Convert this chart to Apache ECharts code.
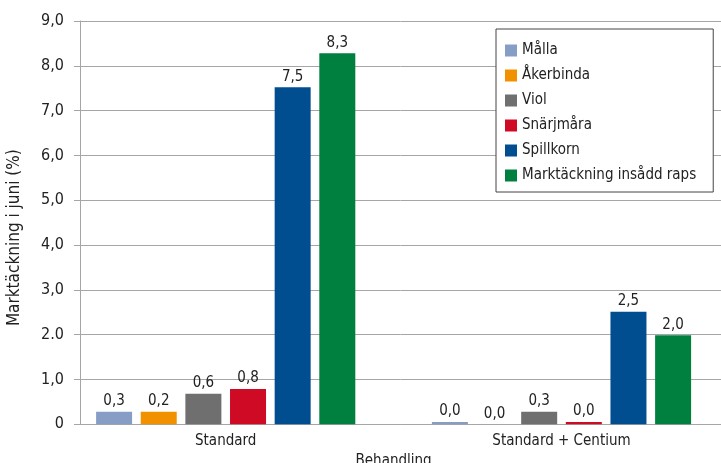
<!DOCTYPE html>
<html>
<head>
<meta charset="utf-8">
<script src="https://cdn.jsdelivr.net/npm/echarts@6/dist/echarts.min.js"></script>
<style>
html, body { margin: 0; padding: 0; background: #fff; }
#chart { width: 721px; height: 463px; }
</style>
</head>
<body>
<div id="chart"></div>
<script>
var categories = ['Standard', 'Standard + Centium'];
var seriesNames = ['Målla', 'Åkerbinda', 'Viol', 'Snärjmåra', 'Spillkorn', 'Marktäckning insådd raps'];
var seriesColors = ['#869ec6', '#f29100', '#706f6f', '#cf0a25', '#004e90', '#00803f'];

// bar heights as drawn
var malla = [0.28, 0.05];
var akerbinda = [0.28, 0];
var viol = [0.68, 0.28];
var snarjmara = [0.79, 0.05];
var spillkorn = [7.52, 2.51];
var marktackning = [8.28, 1.99];

// value labels as printed
var mallaLabels = ['0,3', '0,0'];
var akerbindaLabels = ['0,2', '0,0'];
var violLabels = ['0,6', '0,3'];
var snarjmaraLabels = ['0,8', '0,0'];
var spillkornLabels = ['7,5', '2,5'];
var marktackningLabels = ['8,3', '2,0'];

var yTickLabels = ['0', '1,0', '2.0', '3,0', '4,0', '5,0', '6,0', '7,0', '8,0', '9,0'];

var font = "'DejaVu Sans Condensed', 'DejaVu Sans', sans-serif";
var gridColor = '#a6a6a6';

var allValues = [malla, akerbinda, viol, snarjmara, spillkorn, marktackning];
var allLabels = [mallaLabels, akerbindaLabels, violLabels, snarjmaraLabels, spillkornLabels, marktackningLabels];

var series = [];
for (var i = 0; i < seriesNames.length; i++) {
	(function(idx){
		series.push({
			name: seriesNames[idx],
			type: 'bar',
			xAxisIndex: 0,
			yAxisIndex: 0,
			barWidth: 36,
			barGap: '24%',
			itemStyle: { color: seriesColors[idx] },
			label: {
				show: true,
				position: 'top',
				distance: 3,
				color: '#222',
				fontFamily: font,
				fontSize: 15,
				formatter: function(p) { return allLabels[idx][p.dataIndex]; }
			},
			data: allValues[idx]
		});
	})(i);
}

var myChart = echarts.init(document.getElementById('chart'));
var option = {
	animation: false,
	textStyle: { fontFamily: font },
	grid: [
		{ left: 57.8, width: 671.6, top: 21, height: 403.3, outerBoundsMode: 'none', containLabel: false },
		{ left: 80, right: 0, top: 21, height: 403.3, outerBoundsMode: 'none', containLabel: false }
	],
	legend: {
		orient: 'vertical',
		left: 496,
		top: 29,
		padding: [13, 17, 8, 9],
		itemWidth: 12,
		itemHeight: 12,
		itemGap: 8,
		icon: 'rect',
		backgroundColor: '#fff',
		borderColor: '#444',
		borderWidth: 1,
		textStyle: { fontFamily: font, fontSize: 15, color: '#222', lineHeight: 17 },
		data: seriesNames
	},
	xAxis: [
		{
			gridIndex: 0,
			type: 'category',
			data: categories,
			axisLine: { show: false },
			axisTick: { show: false },
			axisLabel: { fontFamily: font, fontSize: 15, color: '#222', margin: 9 },
			name: 'Behandling',
			nameLocation: 'middle',
			nameGap: 19,
			nameTextStyle: { fontFamily: font, fontSize: 15, color: '#222' }
		},
		{
			gridIndex: 1,
			type: 'category',
			data: categories,
			axisLine: { show: true, lineStyle: { color: gridColor, width: 1 } },
			axisTick: { show: false },
			axisLabel: { show: false }
		}
	],
	yAxis: [
		{
			gridIndex: 0,
			type: 'value',
			min: 0,
			max: 9,
			interval: 1,
			show: false
		},
		{
			gridIndex: 1,
			type: 'value',
			min: 0,
			max: 9,
			interval: 1,
			axisLine: { show: true, lineStyle: { color: gridColor, width: 1 } },
			axisTick: { show: true, length: 6, lineStyle: { color: gridColor } },
			splitLine: { show: true, lineStyle: { color: gridColor, width: 1 } },
			axisLabel: {
				fontFamily: font,
				fontSize: 16,
				color: '#222',
				margin: 16,
				formatter: function(v) { return yTickLabels[Math.round(v)]; }
			},
			name: 'Marktäckning i juni (%)',
			nameLocation: 'middle',
			nameGap: 57,
			nameTextStyle: { fontFamily: font, fontSize: 17, color: '#222', padding: [0, 30, 0, 0] }
		}
	],
	series: series
};
myChart.setOption(option);
</script>
</body>
</html>
